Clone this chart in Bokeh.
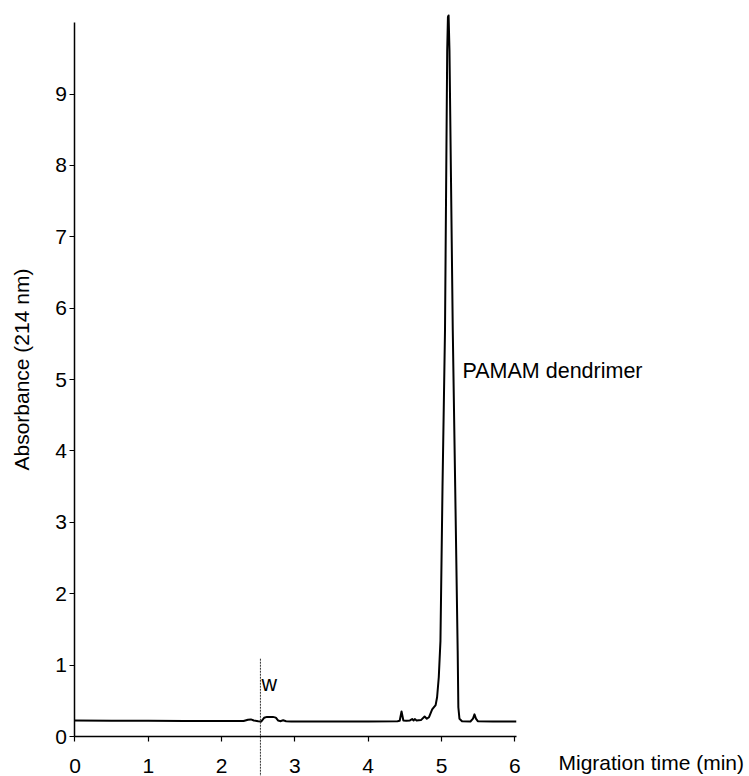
from bokeh.plotting import figure
from bokeh.models import Range1d, FixedTicker, ColumnDataSource
from bokeh.core.properties import value
from bokeh.embed import file_html
from bokeh.resources import INLINE

# ---- data ----
time_min = [0.0, 0.5, 1.0, 1.5, 2.0, 2.3, 2.36, 2.40, 2.44, 2.50,
            2.54, 2.58, 2.62, 2.70, 2.74, 2.77, 2.80, 2.84, 2.88, 2.95,
            3.5, 4.0, 4.40, 4.43, 4.455, 4.48, 4.52, 4.57, 4.60, 4.62,
            4.636, 4.66, 4.72, 4.77, 4.80, 4.83, 4.873, 4.92, 4.94, 4.963,
            4.986, 5.014, 5.048, 5.078, 5.088, 5.097, 5.109, 5.154, 5.187, 5.221,
            5.23, 5.245, 5.28, 5.395, 5.43, 5.45, 5.47, 5.495, 5.7, 6.02]
absorbance = [0.225, 0.222, 0.22, 0.218, 0.217, 0.217, 0.235, 0.24, 0.225, 0.215,
              0.21, 0.262, 0.275, 0.275, 0.265, 0.225, 0.215, 0.228, 0.215, 0.21,
              0.21, 0.212, 0.215, 0.22, 0.35, 0.225, 0.22, 0.225, 0.245, 0.225,
              0.245, 0.225, 0.23, 0.28, 0.25, 0.27, 0.38, 0.44, 0.55, 0.83,
              1.34, 3.5, 5.69, 9.61, 10.08, 10.1, 9.61, 5.69, 3.5, 1.2,
              0.41, 0.25, 0.215, 0.21, 0.25, 0.31, 0.25, 0.215, 0.21, 0.21]

x_ticks = [0, 1, 2, 3, 4, 5, 6]
y_ticks = [0, 1, 2, 3, 4, 5, 6, 7, 8, 9]

# marker line (w) and annotation texts
w_time = [2.53]
w_top = [1.09]
label_texts = ["w", "PAMAM dendrimer"]
label_x = [2.545, 5.287]
label_y = [0.74, 5.12]

xlabel_text = ["Migration time (min)"]
xlabel_x = [6.596]
xlabel_y = [-0.37]

ylabel_text = ["Absorbance (214 nm)"]
ylabel_x = [-0.73]
ylabel_y = [5.14]

FONT = "Liberation Sans"
FS = "21px"

p = figure(width=749, height=776,
           x_range=Range1d(-1.016, 9.202), y_range=Range1d(-0.56, 10.31),
           output_backend="svg", toolbar_location=None,
           min_border=0, outline_line_color=None)
p.grid.visible = False
p.background_fill_color = "white"
p.border_fill_color = "white"

for ax, ticks, bnds in ((p.xaxis[0], x_ticks, (0, 6.02)), (p.yaxis[0], y_ticks, (0, 10))):
    ax.fixed_location = 0
    ax.bounds = bnds
    ax.ticker = FixedTicker(ticks=ticks)
    ax.axis_line_color = "black"
    ax.axis_line_width = 1.5
    ax.major_tick_line_color = "black"
    ax.major_tick_line_width = 1.2
    ax.major_tick_in = 0
    ax.major_tick_out = 5
    ax.minor_tick_line_color = None
    ax.major_label_text_font = FONT
    ax.major_label_text_font_size = FS
    ax.major_label_text_color = "black"

p.xaxis[0].major_label_standoff = 17
p.yaxis[0].major_label_standoff = 3

# trace
src = ColumnDataSource(dict(t=time_min, a=absorbance))
p.line("t", "a", source=src, line_color="black", line_width=2, line_join="round")

# dotted marker line
p.segment(x0=w_time, y0=w_top, x1=w_time, y1=[-0.56],
          line_color="#333333", line_width=1, line_dash="2 1")

# text annotations
p.text(x=label_x, y=label_y, text=label_texts,
       text_font=value(FONT), text_font_size="21.5px", text_color="black",
       text_align="left", text_baseline="middle")
p.text(x=xlabel_x, y=xlabel_y, text=xlabel_text,
       text_font=value(FONT), text_font_size=FS, text_color="black",
       text_align="left", text_baseline="middle")
p.text(x=ylabel_x, y=ylabel_y, text=ylabel_text, angle=1.5707963,
       text_font=value(FONT), text_font_size=FS, text_color="black",
       text_align="center", text_baseline="middle")

open("out.html", "w").write(file_html(p, INLINE))
